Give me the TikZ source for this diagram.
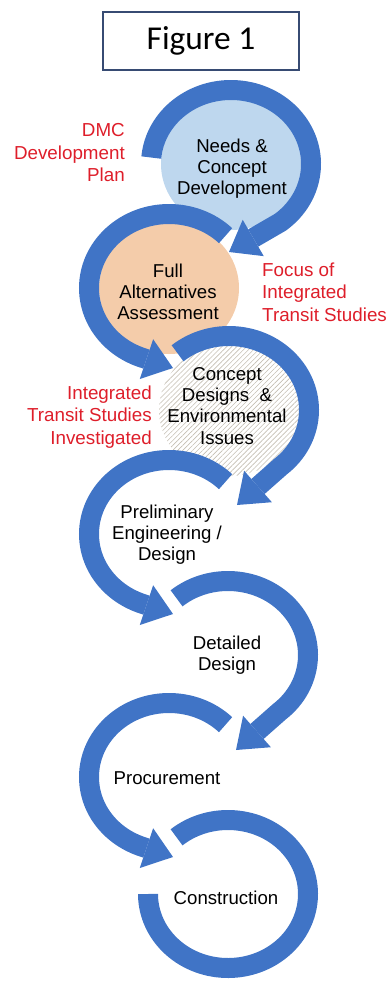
\documentclass[tikz,border=0pt]{standalone}
\usepackage{fontspec}
\setmainfont{Liberation Sans}
\newfontfamily\titlefont{Carlito}
\usetikzlibrary{arrows.meta,shapes.geometric,patterns.meta}

\definecolor{ringblue}{RGB}{64,116,198}
\definecolor{needsblue}{RGB}{190,215,238}
\definecolor{peach}{RGB}{244,204,170}
\definecolor{hatchgrey}{RGB}{196,190,178}
\definecolor{notered}{RGB}{222,30,42}
\definecolor{boxblue}{RGB}{55,75,115}

\tikzset{
  stagefill/.style={ellipse, minimum width=28mm, minimum height=26.4mm, inner sep=0pt},
  stagetext/.style={align=center, font=\fontsize{10.6}{12}\selectfont},
  ring/.style={draw=ringblue, line width=4mm},
  ringarrow/.style={ring, -{Triangle[length=5.6mm, width=8.4mm, line width=0pt 0]}},
  note/.style={text=notered, font=\fontsize{10.7}{12.8}\selectfont},
}

\begin{document}
\begin{tikzpicture}[x=0.2mm, y=0.2mm]

\useasboundingbox (0,0) rectangle (389,-981);

\node[draw=boxblue, line width=0.3mm, minimum width=39.2mm, minimum height=11.6mm, font=\titlefont\fontsize{19}{22}\selectfont] (title) at (201,-41) {Figure 1};

% circles
\node[stagefill, fill=needsblue] (needs) at (231,-164) {};
\node[stagefill, fill=peach] (altern) at (169,-288) {};
\node[stagefill, fill=white, pattern={Lines[angle=45, distance=2pt, line width=0.35pt]}, pattern color=hatchgrey] (concept) at (229,-410) {};
\node[stagefill] (prelim) at (169,-534) {};
\node[stagefill] (detail) at (228,-655) {};
\node[stagefill] (procure) at (169,-777) {};
\node[stagefill] (constr) at (228,-894) {};

% rings
\draw[ringarrow] ([shift={(175:80 and 74)}]needs.center) arc[start angle=175, end angle=-52, x radius=80, y radius=74] -- ([shift={(-2,-88)}]needs.center);
\draw[ringarrow] ([shift={(45:80 and 74)}]altern.center) arc[start angle=45, end angle=252, x radius=80, y radius=74] -- ([shift={(4,-80)}]altern.center);
\draw[ringarrow] ([shift={(130:80 and 74)}]concept.center) arc[start angle=130, end angle=-50, x radius=80, y radius=74] -- ([shift={(8,-95)}]concept.center);
\draw[ringarrow] ([shift={(45:80 and 74)}]prelim.center) arc[start angle=45, end angle=252, x radius=80, y radius=74] -- ([shift={(4,-80)}]prelim.center);
\draw[ringarrow] ([shift={(130:80 and 74)}]detail.center) arc[start angle=130, end angle=-50, x radius=80, y radius=74] -- ([shift={(8,-95)}]detail.center);
\draw[ringarrow] ([shift={(45:80 and 74)}]procure.center) arc[start angle=45, end angle=252, x radius=80, y radius=74] -- ([shift={(4,-80)}]procure.center);
\draw[ring] ([shift={(130:80 and 74)}]constr.center) arc[start angle=130, end angle=-180, x radius=80, y radius=74];

% stage texts
\node[stagetext] (needstext) at (232,-169) {Needs \&\\Concept\\Development};
\node[stagetext] (alterntext) at (168,-292) {Full\\Alternatives\\Assessment};
\node[stagetext] (concepttext) at (227,-406) {Concept\\Designs~~\&\\Environmental\\Issues};
\node[stagetext] (prelimtext) at (167,-535) {Preliminary\\Engineering /\\Design};
\node[stagetext] (detailtext) at (227,-655) {Detailed\\Design};
\node[stagetext] (procuretext) at (167,-778) {Procurement};
\node[stagetext] (constrtext) at (226,-898) {Construction};

% red notes
\node[note, align=right, anchor=east] (dmcnote) at (131,-153) {DMC\\Development\\Plan};
\node[note, align=left, anchor=west] (focusnote) at (256,-292) {Focus of\\Integrated\\Transit Studies};
\node[note, align=right, anchor=east] (investnote) at (158,-417) {Integrated\\Transit Studies\\Investigated};

\end{tikzpicture}
\end{document}
